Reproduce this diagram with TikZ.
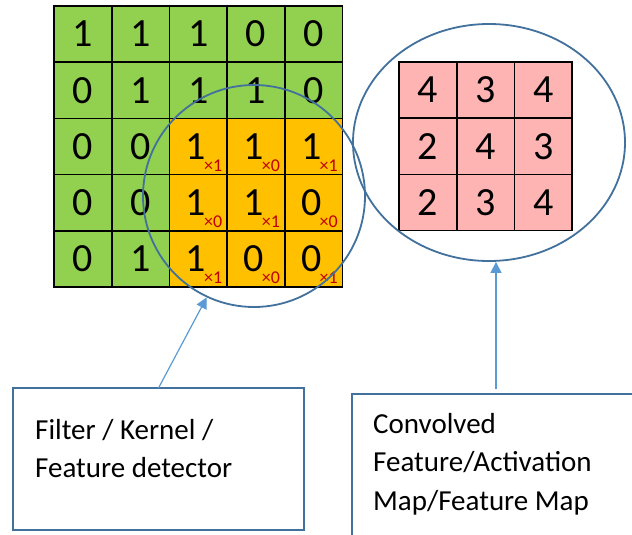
\documentclass[tikz,border=0pt]{standalone}
\usepackage{fontspec}
\setmainfont{Carlito}
\usetikzlibrary{arrows.meta,calc,shapes.geometric}
\definecolor{cgreen}{HTML}{92D050}
\definecolor{corange}{HTML}{FFC000}
\definecolor{cpink}{HTML}{FFB4B4}
\definecolor{cblue}{HTML}{41719C}
\definecolor{carrow}{HTML}{5B9BD5}
\definecolor{cred}{HTML}{C00000}
\tikzset{
  cell/.style={draw=black, line width=1.6pt, inner sep=0pt, outer sep=0pt,
    minimum width=57.7pt, minimum height=56.2pt,
    font=\fontsize{40}{40}\selectfont},
  gcell/.style={cell, fill=cgreen},
  ocell/.style={cell, fill=corange},
  pcell/.style={cell, fill=cpink},
  subtxt/.style={text=cred, inner sep=0pt, font=\fontsize{18}{18}\selectfont},
  ring/.style={draw=cblue, line width=1.8pt, inner sep=0pt},
  box/.style={draw=cblue, line width=2pt, inner sep=0pt, outer sep=0pt, anchor=north west},
  boxtxt/.style={inner sep=0pt, anchor=north west, align=left,
    font=\fontsize{29}{38.6}\selectfont},
  pointer/.style={draw=carrow, line width=1.2pt, -{Triangle[length=11pt,width=11pt]}},
}
\begin{document}
\begin{tikzpicture}[x=1pt,y=-1pt]
\clip (0,0) rectangle (632,535);
\fill[white] (0,0) rectangle (632,535);
% input grid
\def\W{57.7}\def\H{56.2}
\foreach \r/\row in {1/{1,1,1,0,0},2/{0,1,1,1,0},3/{0,0,1,1,1},4/{0,0,1,1,0},5/{0,1,1,0,0}}{
  \foreach \v [count=\c] in \row {
    \pgfmathsetmacro{\cx}{54+(\c-0.5)*\W}
    \pgfmathsetmacro{\cy}{6+(\r-0.5)*\H}
    \pgfmathtruncatemacro{\isor}{(\r>2)&&(\c>2)}
    \ifnum\isor=1
      \node[ocell] (g\r\c) at (\cx,\cy) {\hspace*{-5pt}\v};
    \else
      \node[gcell] (g\r\c) at (\cx,\cy) {\v};
    \fi
  }
}
% multipliers
\foreach \r/\row in {3/{1,0,1},4/{0,1,0},5/{1,0,1}}{
  \foreach \m [count=\k] in \row {
    \pgfmathtruncatemacro{\c}{\k+2}
    \node[subtxt] (s\r\c) at ($(g\r\c.center)+(15,19)$) {×\m};
  }
}
% output grid
\foreach \r/\row in {1/{4,3,4},2/{2,4,3},3/{2,3,4}}{
  \foreach \v [count=\c] in \row {
    \pgfmathsetmacro{\cx}{399+(\c-0.5)*\W}
    \pgfmathsetmacro{\cy}{62+(\r-0.5)*\H}
    \node[pcell] (p\r\c) at (\cx,\cy) {\v};
  }
}
% rings
\node[ring, circle, minimum size=222pt] (kc) at (254,196) {};
\node[ring, ellipse, minimum width=272pt, minimum height=237pt] (fe) at (489,142.5) {};
% boxes
\node[box, minimum width=291pt, minimum height=142pt] (fb) at (13,388) {};
\node[boxtxt] (ft) at (35,419) {Filter / Kernel /\\Feature detector};
\node[box, minimum width=300pt, minimum height=160pt] (mb) at (352,394) {};
\node[boxtxt] (mt) at (373,413) {Convolved\\Feature/Activation\\Map/Feature Map};
% pointers
\draw[pointer] (fb.north) -- (kc.245);
\coordinate (a2) at (496,389);
\draw[pointer] (a2) -- (a2 |- fe.south);
\end{tikzpicture}
\end{document}
